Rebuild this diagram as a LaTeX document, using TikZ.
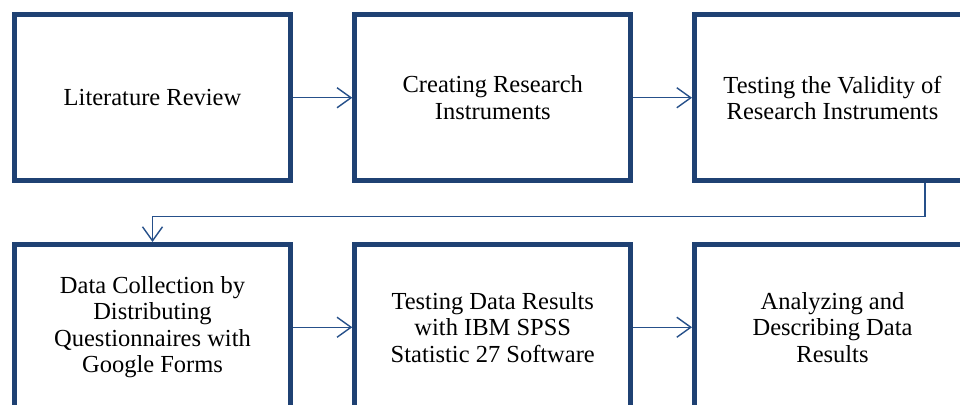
\documentclass[tikz,border=0pt]{standalone}
\usepackage{fontspec}
\newfontfamily\lserif{Liberation Serif}
\usetikzlibrary{arrows.meta}
\definecolor{boxblue}{RGB}{31,65,115}
\definecolor{lineblue}{RGB}{38,80,138}
\tikzset{
  stepbox/.style={draw=boxblue, line width=5pt, minimum width=276pt, minimum height=165.5pt,
    inner sep=0pt, align=center, font=\lserif\fontsize{24.5pt}{26.5pt}\selectfont, text=black},
  conn/.style={draw=lineblue, line width=1.4pt, -{Straight Barb[length=14pt,width=20pt,line width=1.4pt]}}
}
\begin{document}
\begin{tikzpicture}[x=1pt,y=-1pt]
\useasboundingbox (0,0) rectangle (960,404);
\clip (0,0) rectangle (960,404);
\node[stepbox] (b1) at (152.5,97.75) {Literature Review};
\node[stepbox] (b2) at (492.75,97.75) {Creating Research\\Instruments};
\node[stepbox] (b3) at (832.5,97.75) {Testing the Validity of\\Research Instruments};
\node[stepbox] (b4) at (152.5,327.25) {Data Collection by\\Distributing\\Questionnaires with\\Google Forms};
\node[stepbox] (b5) at (492.75,327.25) {Testing Data Results\\with IBM SPSS\\Statistic 27 Software};
\node[stepbox] (b6) at (832.5,327.25) {Analyzing and\\Describing Data\\Results};
\coordinate (turn) at (925,216.5);
\draw[conn] (b1.east) -- (b2.west);
\draw[conn] (b2.east) -- (b3.west);
\draw[conn] (b4.east) -- (b5.west);
\draw[conn] (b5.east) -- (b6.west);
\draw[conn] (b3.south -| turn) -- (turn) -| (b4.north);
\end{tikzpicture}
\end{document}
